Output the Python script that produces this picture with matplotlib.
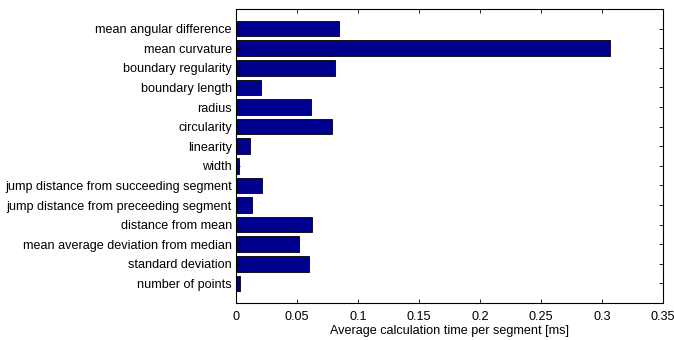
import matplotlib
matplotlib.use("Agg")
import matplotlib.pyplot as plt

plt.rcParams["font.family"] = ["Liberation Sans", "DejaVu Sans"]
plt.rcParams["font.size"] = 9.1

# bottom to top, as drawn
features = [
    "number of points",
    "standard deviation",
    "mean average deviation from median",
    "distance from mean",
    "jump distance from preceeding segment",
    "jump distance from succeeding segment",
    "width",
    "linearity",
    "circularity",
    "radius",
    "boundary length",
    "boundary regularity",
    "mean curvature",
    "mean angular difference",
]
avg_time_ms = [
    0.0030, 0.0598, 0.0516, 0.0620, 0.0131, 0.0216, 0.0022,
    0.0115, 0.0790, 0.0612, 0.0202, 0.0814, 0.3066, 0.0844,
]
xticks = [0, 0.05, 0.1, 0.15, 0.2, 0.25, 0.3, 0.35]

fig = plt.figure(figsize=(6.74, 3.4), dpi=100)
ax = fig.add_axes([236 / 674, 1 - 303 / 340, (663 - 236) / 674, (303 - 9) / 340])

positions = list(range(1, len(features) + 1))
ax.barh(positions, avg_time_ms, height=0.8, color="#00008f",
        edgecolor="black", linewidth=0.6)

ax.set_xlim(0, 0.35)
ax.set_ylim(0, 15)
ax.set_xticks(xticks)
ax.set_xticklabels(["0", "0.05", "0.1", "0.15", "0.2", "0.25", "0.3", "0.35"])
ax.set_yticks(positions)
ax.set_yticklabels(features)
ax.tick_params(direction="in", top=True, right=True, length=3, width=0.6, pad=3)
ax.tick_params(axis="x", pad=5.5)
for spine in ax.spines.values():
    spine.set_linewidth(0.8)
ax.set_xlabel("Average calculation time per segment [ms]", labelpad=1.5)

fig.savefig("out.png", dpi=100)
